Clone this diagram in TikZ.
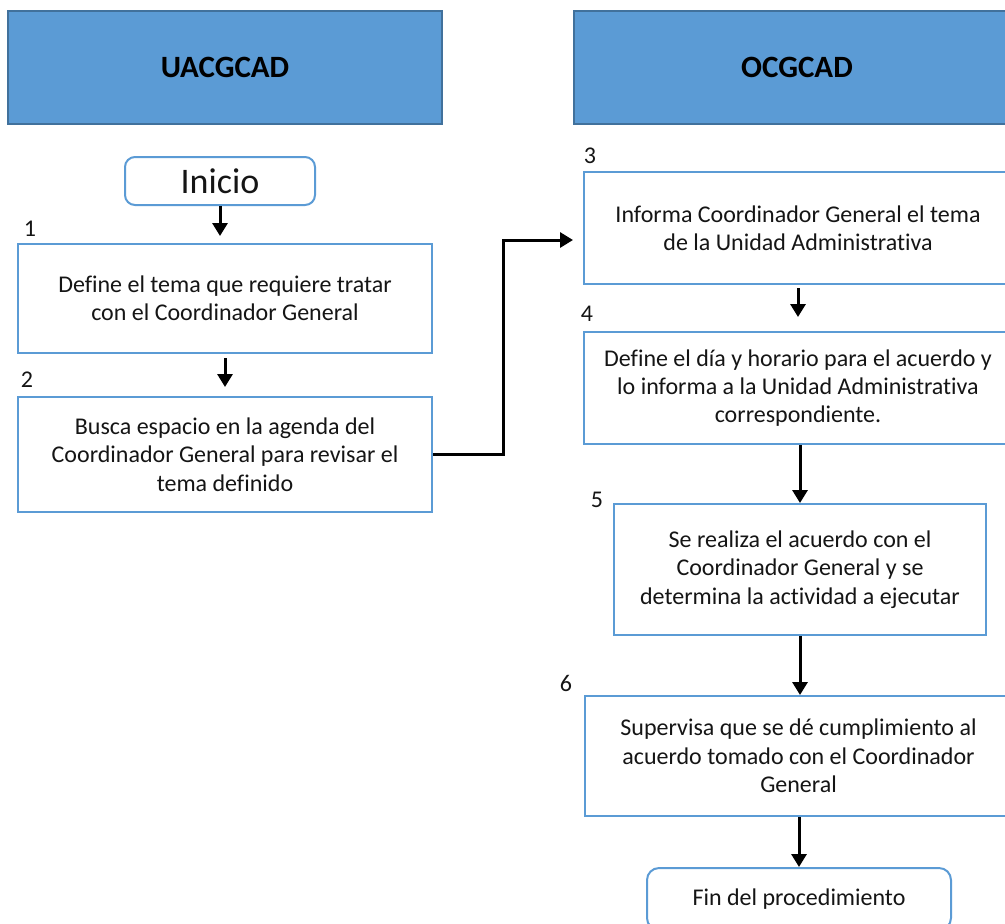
\documentclass[tikz,border=0pt]{standalone}
\usepackage{fontspec}
\setmainfont{Carlito}[Ligatures=NoCommon]
\usetikzlibrary{arrows.meta,calc}
\definecolor{laneblue}{HTML}{5B9BD5}
\definecolor{laneedge}{HTML}{41719C}
\definecolor{boxedge}{HTML}{5B9BD5}
\definecolor{ink}{HTML}{151515}

\begin{document}
\begin{tikzpicture}[x=0.5pt,y=-0.5pt,
  lane/.style={draw=laneedge, line width=1pt, fill=laneblue, inner sep=0pt,
    text=black, font=\fontsize{15.5}{18}\selectfont\bfseries},
  stepbox/.style={draw=boxedge, line width=1pt, fill=white, inner sep=0pt,
    align=center, text=ink, font=\fontsize{12}{14.2}\selectfont},
  terminal/.style={stepbox, rounded corners=5pt},
  num/.style={text=ink, inner sep=0pt, font=\fontsize{12}{14}\selectfont},
  flow/.style={line width=1.5pt, -{Triangle[width=7.5pt,length=6.5pt]}}
]
\useasboundingbox (0,0) rectangle (1005,923);
\clip (0,0) rectangle (1005,923);

% swimlane headers
\node[lane, minimum width=217pt, minimum height=56.5pt] (lane1) at (225,67.5) {UACGCAD};
\node[lane, minimum width=223pt, minimum height=56.5pt] (lane2) at (797,67.5) {OCGCAD};

% left column: UACGCAD
\node[terminal, minimum width=95pt, minimum height=24pt,
      font=\fontsize{18}{21}\selectfont] (inicio) at (220,181) {Inicio};
\node[stepbox, minimum width=207pt, minimum height=54.5pt] (b1) at (225,298.5)
  {Define el tema que requiere tratar\\con el Coordinador General};
\node[stepbox, minimum width=207pt, minimum height=57.5pt] (b2) at (225,454.5)
  {Busca espacio en la agenda del\\Coordinador General para revisar el\\tema definido};

% right column: OCGCAD
\node[stepbox, minimum width=214pt, minimum height=56pt] (b3) at (798,228)
  {Informa Coordinador General el tema\\de la Unidad Administrativa};
\node[stepbox, minimum width=214pt, minimum height=56pt] (b4) at (798,388)
  {Define el día y horario para el acuerdo y\\lo informa a la Unidad Administrativa\\correspondiente.};
\node[stepbox, minimum width=186pt, minimum height=65.5pt] (b5) at (800,569.5)
  {Se realiza el acuerdo con el\\Coordinador General y se\\determina la actividad a ejecutar};
\node[stepbox, minimum width=213.5pt, minimum height=60pt] (b6) at (798.5,756)
  {Supervisa que se dé cumplimiento al\\acuerdo tomado con el Coordinador\\General};
\node[terminal, minimum width=152pt, minimum height=31pt, rounded corners=6pt] (fin) at (799,899)
  {Fin del procedimiento};

% step numbers
\node[num] (n1) at (30,229) {1};
\node[num] (n2) at (27,380) {2};
\node[num] (n3) at (590,156) {3};
\node[num] (n4) at (587,314) {4};
\node[num] (n5) at (597,500) {5};
\node[num] (n6) at (566,683) {6};

% connectors
\draw[flow, shorten >=3.5pt] (inicio.south) -- (inicio.south |- b1.north);
\draw[flow, shorten <=2pt, shorten >=4.5pt] (b1.south) -- (b2.north);
\coordinate (elbow) at (503,240);
\draw[flow, shorten >=5pt] (b2.east) -| (elbow) -- (elbow -| b3.west);
\draw[flow, shorten <=1.5pt, shorten >=7pt] (b3.south) -- (b4.north);
\draw[flow] (b5.north |- b4.south) -- (b5.north);
\draw[flow] (b5.south) -- (b5.south |- b6.north);
\draw[flow] (fin.north |- b6.south) -- (fin.north);
\end{tikzpicture}
\end{document}
